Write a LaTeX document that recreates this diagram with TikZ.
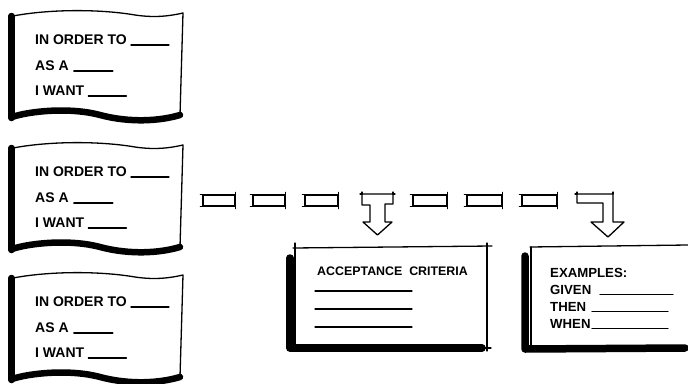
\documentclass[tikz,border=0pt]{standalone}
\usepackage{fontspec}
\setmainfont{Liberation Sans}
\begin{document}
\begin{tikzpicture}[x=1pt,y=-1pt,
  ink/.style={draw=black},
  thinline/.style={ink, line width=1.3pt, line cap=round, line join=round},
  heavy/.style={ink, line width=6.5pt, line cap=round, line join=round},
  lbl/.style={anchor=base west, inner sep=0pt, text=black, font=\fontsize{14}{16}\selectfont\bfseries},
  blbl/.style={lbl, font=\fontsize{12.4}{14}\selectfont\bfseries},
  elbl/.style={lbl, font=\fontsize{13.2}{15}\selectfont\bfseries},
  seg/.style={thinline, rectangle, inner sep=0pt, minimum height=11pt}]
\useasboundingbox[fill=white] (0,0) rectangle (688,383);

% story cards (flags)
\foreach \t/\k in {15/a,147/b,277/c} {
  \draw[thinline] (13,\t+1) .. controls (50,\t-6) and (100,\t-6) .. (135,\t)
       .. controls (155,\t+3) and (170,\t+1) .. (183,\t-2) -- (180,\t+100);
  \draw[heavy] (11.5,\t+1) -- (11.5,\t+103);
  \draw[heavy] (12,\t+102) .. controls (30,\t+96) and (70,\t+92) .. (100,\t+100)
       .. controls (130,\t+108) and (160,\t+106) .. (180,\t+100);
  \node[lbl] (o\k) at (35,\t+29) {IN ORDER TO};
  \draw[thinline] ([xshift=4pt,yshift=-1pt]o\k.base east) -- ++(38,0);
  \node[lbl] (s\k) at (35,\t+55) {AS A};
  \draw[thinline] ([xshift=5pt,yshift=-1pt]s\k.base east) -- ++(39,0);
  \node[lbl] (w\k) at (35,\t+80) {I WANT};
  \draw[thinline] ([xshift=4pt,yshift=-1pt]w\k.base east) -- ++(38,0);
}

% row of segments
\node[seg, minimum width=32pt] (g1) at (219,200.5) {};
\node[seg, minimum width=32pt] (g2) at (269,200.5) {};
\node[seg, minimum width=33pt] (g3) at (321.5,200.5) {};
\node[seg, minimum width=34pt] (g5) at (430,200.5) {};
\node[seg, minimum width=35pt] (g6) at (484.5,200.5) {};
\node[seg, minimum width=35pt] (g7) at (539.5,200.5) {};
\foreach \n in {g1,g2,g3,g5,g6,g7} {
  \draw[thinline] ([xshift=-2pt]\n.north west) -- ([xshift=2pt]\n.north west);
  \draw[thinline] ([yshift=2pt]\n.north east) -- ([yshift=-2pt]\n.north east);
  \draw[thinline] ([xshift=-2pt]\n.south west) -- ([xshift=2pt]\n.south west);
  \draw[thinline] ([yshift=-2pt]\n.south east) -- ([yshift=2pt]\n.south east);
}

% T arrow
\draw[thinline] (362,194) -- (393,194) -- (393,204) -- (385,204) -- (385,222) -- (392,222)
  -- (377.5,235) -- (363,222) -- (370,222) -- (370,205) -- (362,205) -- cycle;
\draw[thinline] (360,194) -- (362,194) -- (362,192);
\draw[thinline] (393,192) -- (393,194) -- (395,194);
% L arrow
\draw[thinline] (577,194) -- (613,194) -- (613,222) -- (624,222) -- (608,237) -- (591,222)
  -- (603,222) -- (603,203) -- (577,203) -- cycle;
\draw[thinline] (575,194) -- (577,194) -- (577,192);
\draw[thinline] (613,192) -- (613,194);

% acceptance criteria box
\draw[thinline] (293,248) -- (492,246);
\draw[thinline] (295,243) -- (295,350);
\draw[thinline] (487,243) -- (487,351);
\draw[heavy, line width=7.5pt] (290,258) -- (290,348) -- (482,348);
\draw[thinline] (482,348) -- (491,348);
\node[blbl] (ac) at (317,275) {ACCEPTANCE\ \ CRITERIA};
\draw[thinline] (315,291) -- (412,291);
\draw[thinline] (315,309) -- (412,309);
\draw[thinline] (315,327) -- (412,327);

% examples box
\draw[thinline] (530,247) -- (688,245);
\draw[thinline] (531,247) -- (531,345);
\draw[heavy, line width=7.5pt] (525,256) -- (525,349) -- (685,348);
\node[elbl] (ex) at (550,277) {EXAMPLES:};
\node[elbl] (gv) at (550,294.5) {GIVEN};
\draw[thinline] (600,294.5) -- (673,294.5);
\node[elbl] (th) at (550,311.5) {THEN};
\draw[thinline] (592,311.5) -- (668,311.5);
\node[elbl] (wh) at (550,328.5) {WHEN};
\draw[thinline] (592,328.5) -- (668,328.5);
\end{tikzpicture}
\end{document}
